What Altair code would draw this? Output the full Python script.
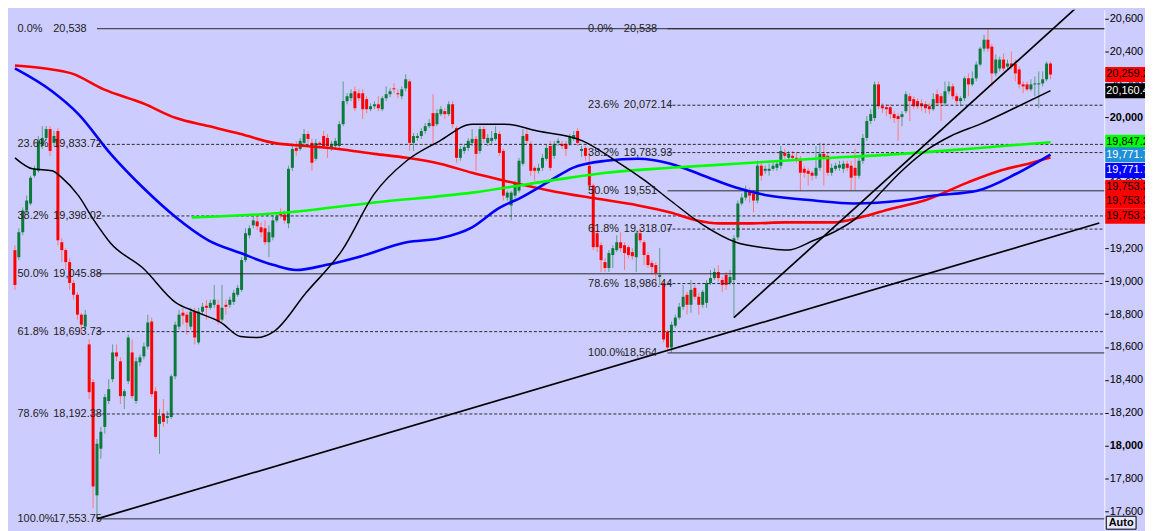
import altair as alt
import pandas as pd

# ---------------- candle data (price values) ----------------
opens = [
19190, 19147, 19299, 19431, 19474, 19643, 19673, 19824, 19873, 19927,
19843, 19915, 19238, 19190, 19117, 18990, 18918, 18797, 18724, 18616,
18386, 17697, 17981, 18114, 18271, 18404, 18567, 18513, 18301, 18392,
18567, 18271, 18507, 18543, 18603, 18755, 18331, 18132, 18192, 18168,
18174, 18422, 18724, 18809, 18797, 18724, 18815, 18628, 18815, 18851,
18839, 18857, 18857, 18767, 18857, 18857, 18875, 18918, 18948, 19129,
19280, 19341, 19365, 19329, 19323, 19238, 19268, 19371, 19413, 19407,
19353, 19691, 19812, 19806, 19843, 19897, 19843, 19746, 19843, 19885,
19873, 19806, 19824, 19824, 19957, 20097, 20115, 20157, 20145, 20145,
20109, 20048, 20066, 20078, 20048, 20115, 20139, 20175, 20145, 20127,
20175, 20217, 19843, 19873, 19885, 19915, 19945, 20024, 19957, 20018,
20036, 20018, 20078, 19933, 19752, 19794, 19812, 19843, 19867, 19794,
19927, 19843, 19855, 19867, 19897, 19794, 19510, 19462, 19522, 19552,
19716, 19897, 19837, 19691, 19673, 19691, 19746, 19824, 19764, 19843,
19837, 19837, 19837, 19867, 19915, 19794, 19812, 19704, 19583, 19293,
19220, 19117, 19081, 19160, 19190, 19238, 19220, 19208, 19178, 19147,
19293, 19238, 19160, 19111, 19099, 19027, 18990, 18694, 18597, 18730,
18779, 18845, 18918, 18857, 18960, 18906, 18857, 18869, 18990, 19020,
19057, 19008, 19039, 18990, 19008, 19268, 19474, 19510, 19552, 19534,
19492, 19704, 19673, 19673, 19685, 19691, 19704, 19782, 19752, 19764,
19752, 19746, 19685, 19673, 19661, 19643, 19691, 19776, 19764, 19661,
19685, 19691, 19685, 19716, 19704, 19691, 19643, 19734, 19873, 19976,
19994, 20199, 20066, 20060, 20060, 20018, 20006, 20000, 20036, 20127,
20109, 20097, 20084, 20078, 20066, 20048, 20139, 20127, 20084, 20157,
20187, 20127, 20097, 20115, 20236, 20199, 20236, 20320, 20417, 20471,
20429, 20266, 20296, 20350, 20308, 20326, 20326, 20290, 20199, 20199,
20169, 20199, 20199, 20205, 20230, 20326,
]
highs = [
19220, 19323, 19450, 19522, 19643, 19704, 19885, 19945, 19945, 19945,
19915, 19933, 19262, 19202, 19141, 19008, 18936, 18809, 18827, 18646,
18404, 18041, 18114, 18313, 18404, 18616, 18616, 18537, 18343, 18676,
18646, 18537, 18555, 18628, 18797, 18779, 18355, 18223, 18283, 18210,
18434, 18755, 18827, 18839, 18815, 18839, 18839, 18839, 18869, 18888,
18888, 18978, 18888, 18978, 18888, 18906, 18948, 18978, 19147, 19323,
19341, 19395, 19395, 19359, 19371, 19341, 19401, 19413, 19444, 19431,
19704, 19824, 19855, 19873, 19927, 19915, 19867, 19867, 19855, 19915,
19897, 19855, 19873, 19976, 20217, 20145, 20169, 20187, 20169, 20169,
20127, 20084, 20097, 20127, 20127, 20187, 20175, 20205, 20169, 20187,
20260, 20230, 19903, 19903, 19933, 19964, 19988, 20139, 20048, 20066,
20054, 20097, 20097, 19945, 19824, 19837, 19873, 19927, 19885, 19945,
19945, 19897, 19915, 19945, 19915, 19806, 19552, 19552, 19613, 19752,
19927, 19927, 19855, 19704, 19716, 19776, 19837, 19855, 19855, 19873,
19855, 19855, 19897, 19915, 19933, 19824, 19824, 19806, 19595, 19311,
19238, 19141, 19190, 19220, 19280, 19299, 19238, 19220, 19202, 19311,
19323, 19250, 19178, 19129, 19117, 19202, 19008, 18706, 18755, 18797,
18869, 18978, 18936, 19008, 18978, 18930, 18948, 19008, 19069, 19081,
19099, 19027, 19057, 19069, 19280, 19492, 19534, 19583, 19571, 19552,
19734, 19722, 19704, 19716, 19722, 19734, 19824, 19806, 19794, 19794,
19782, 19764, 19704, 19691, 19673, 19824, 19843, 19843, 19782, 19716,
19722, 19734, 19734, 19734, 19734, 19806, 19752, 19897, 20006, 20048,
20217, 20217, 20084, 20078, 20078, 20036, 20024, 20036, 20157, 20145,
20127, 20115, 20109, 20097, 20084, 20145, 20169, 20145, 20217, 20217,
20205, 20145, 20127, 20248, 20266, 20278, 20338, 20429, 20501, 20538,
20447, 20381, 20368, 20387, 20350, 20399, 20350, 20308, 20217, 20217,
20230, 20248, 20278, 20278, 20338, 20338,
]
lows = [
18948, 19129, 19280, 19413, 19462, 19631, 19661, 19806, 19855, 19764,
19824, 19220, 19117, 19069, 18948, 18888, 18767, 18676, 18706, 18283,
17618, 17554, 17920, 18072, 18253, 18386, 18513, 18253, 18223, 18374,
18283, 18253, 18483, 18525, 18585, 18295, 18041, 17950, 18114, 18132,
18162, 18404, 18706, 18736, 18676, 18706, 18616, 18616, 18797, 18767,
18827, 18839, 18736, 18755, 18797, 18839, 18857, 18906, 18936, 19117,
19262, 19323, 19311, 19268, 19220, 19147, 19250, 19359, 19383, 19353,
19323, 19673, 19764, 19794, 19824, 19843, 19673, 19734, 19806, 19806,
19752, 19794, 19812, 19806, 19945, 20078, 20097, 20036, 20097, 19988,
20024, 20036, 20048, 20036, 20036, 20097, 20121, 20145, 20115, 20109,
20157, 19794, 19794, 19855, 19867, 19897, 19933, 19824, 19945, 20006,
19988, 20006, 19933, 19722, 19734, 19776, 19794, 19824, 19673, 19776,
19843, 19824, 19837, 19855, 19764, 19492, 19492, 19371, 19504, 19540,
19704, 19837, 19643, 19613, 19655, 19673, 19734, 19673, 19746, 19824,
19806, 19764, 19824, 19855, 19824, 19758, 19734, 19565, 19190, 19178,
19057, 19057, 19057, 19081, 19178, 19178, 19069, 19141, 19129, 19057,
19232, 19099, 19081, 19039, 18978, 18978, 18628, 18573, 18564, 18718,
18767, 18827, 18797, 18809, 18888, 18797, 18839, 18839, 18978, 19008,
18996, 18936, 18948, 18978, 18779, 19250, 19462, 19492, 19480, 19419,
19474, 19613, 19655, 19643, 19673, 19673, 19685, 19746, 19734, 19734,
19722, 19552, 19631, 19583, 19613, 19625, 19673, 19583, 19643, 19643,
19673, 19673, 19661, 19673, 19552, 19552, 19625, 19716, 19855, 19957,
19976, 20048, 20024, 20006, 19988, 19964, 19855, 19945, 20024, 19976,
20048, 20048, 20036, 20024, 20018, 20036, 20066, 19976, 20066, 20139,
20109, 20078, 20066, 20097, 20127, 20187, 20217, 20308, 20399, 20399,
20187, 20248, 20278, 20278, 20290, 20290, 20217, 20175, 20145, 20157,
20157, 20127, 20054, 20187, 20217, 20230,
]
closes = [
18978, 19299, 19431, 19492, 19631, 19685, 19855, 19873, 19927, 19794,
19885, 19250, 19190, 19117, 18990, 18918, 18797, 18736, 18797, 18325,
17751, 18011, 18084, 18295, 18343, 18567, 18543, 18301, 18331, 18658,
18301, 18513, 18537, 18603, 18749, 18313, 18053, 18180, 18144, 18180,
18422, 18736, 18797, 18791, 18749, 18815, 18658, 18815, 18845, 18839,
18869, 18888, 18755, 18839, 18845, 18888, 18930, 18960, 19129, 19293,
19323, 19371, 19335, 19299, 19238, 19299, 19371, 19395, 19401, 19371,
19685, 19806, 19794, 19855, 19897, 19867, 19722, 19843, 19831, 19824,
19824, 19837, 19855, 19957, 20097, 20127, 20145, 20054, 20115, 20048,
20048, 20066, 20078, 20054, 20115, 20139, 20157, 20169, 20139, 20169,
20230, 19843, 19885, 19885, 19915, 19945, 19964, 19945, 20024, 20048,
20018, 20078, 19957, 19752, 19806, 19818, 19855, 19867, 19776, 19927,
19867, 19873, 19873, 19903, 19782, 19522, 19540, 19540, 19595, 19734,
19885, 19855, 19673, 19673, 19691, 19752, 19812, 19691, 19837, 19855,
19824, 19806, 19879, 19891, 19843, 19806, 19764, 19583, 19208, 19208,
19129, 19081, 19172, 19202, 19238, 19202, 19172, 19160, 19153, 19293,
19250, 19160, 19099, 19087, 19051, 19039, 18646, 18597, 18736, 18779,
18845, 18906, 18857, 18948, 18906, 18857, 18936, 18990, 19020, 19057,
19020, 18978, 18978, 19027, 19262, 19474, 19510, 19552, 19522, 19492,
19704, 19643, 19685, 19685, 19704, 19716, 19794, 19764, 19776, 19752,
19746, 19661, 19661, 19655, 19643, 19691, 19776, 19752, 19661, 19691,
19704, 19710, 19716, 19691, 19631, 19643, 19734, 19873, 19976, 20018,
20199, 20066, 20054, 20048, 20018, 19994, 19988, 20018, 20139, 20097,
20066, 20066, 20066, 20054, 20048, 20109, 20084, 20084, 20157, 20187,
20127, 20097, 20115, 20236, 20199, 20236, 20320, 20417, 20471, 20417,
20266, 20350, 20350, 20296, 20326, 20308, 20266, 20199, 20187, 20169,
20199, 20205, 20205, 20230, 20326, 20259.2,
]

# ---------------- moving averages (bar index, price) ----------------
red_ma_i = [0, 7.75, 14.5, 22.75, 32.75, 41.25, 49.5, 57.75, 66.25, 74.5,
            82.75, 92, 100.25, 108.75, 117, 125.25, 137, 147, 159.5, 167.75,
            174.5, 180.25, 188.75, 197, 209.5, 216.25, 224.5, 232.75, 243.75, 252,
            260.25, 265]
red_ma_p = [20314, 20296, 20266, 20169, 20084, 19994, 19945, 19897, 19843, 19824,
            19806, 19776, 19752, 19716, 19661, 19613, 19552, 19510, 19462, 19419,
            19371, 19353, 19353, 19359, 19359, 19389, 19444, 19492, 19601, 19673,
            19722, 19753.3]
blue_ma_i = [0, 9.5, 16.25, 24.5, 32.75, 41.25, 49.5, 57.75, 66.25, 72,
             79.5, 87.75, 100.25, 108.75, 117, 123.75, 129.5, 137, 142.75, 151.25,
             159.5, 167.75, 176.25, 184.5, 192.75, 204.5, 214.5, 227, 235.25, 246.25,
             256.25, 265]
blue_ma_p = [20296, 20157, 20018, 19776, 19571, 19389, 19250, 19172, 19099, 19069,
             19099, 19147, 19238, 19262, 19329, 19444, 19510, 19613, 19691, 19734,
             19746, 19716, 19643, 19571, 19522, 19492, 19474, 19492, 19522, 19552,
             19655, 19771.7]
black_ma_i = [0, 4.5, 9.5, 12, 16.25, 20.25, 24.5, 32.75, 41.25, 46.25,
              52.75, 57.75, 62, 66.25, 74.5, 83.75, 92, 100.25, 108.75, 117,
              125.25, 133.75, 145.25, 153.75, 161.25, 167.75, 176.25, 184.5, 192.75, 197.75,
              204.5, 209.5, 215.25, 222, 227, 233.75, 239.5, 247, 256.25, 265]
black_ma_p = [19752, 19685, 19673, 19631, 19522, 19371, 19232, 19081, 18869, 18815,
              18749, 18664, 18658, 18694, 18930, 19190, 19534, 19734, 19855, 19957,
              19957, 19915, 19855, 19734, 19613, 19492, 19341, 19238, 19202, 19190,
              19250, 19299, 19383, 19552, 19673, 19806, 19885, 19957, 20060, 20160.46]
green_ma_i = [45.25, 69.5, 92, 117, 137, 151.25, 167.75, 184.5, 204.5, 227, 243.75, 265]
green_ma_p = [19389, 19419, 19480, 19540, 19613, 19661, 19691, 19716, 19746, 19776, 19806, 19847.21]

# ---------------- Fibonacci retracements ----------------
fib_pcts = ["0.0%", "23.6%", "38.2%", "50.0%", "61.8%", "78.6%", "100.0%"]
fib_solid = [True, False, False, True, False, False, True]
fib1_prices = [20538, 19833.72, 19398.02, 19045.88, 18693.73, 18192.38, 17553.75]
fib1_labels = ["20,538", "19,833.72", "19,398.02", "19,045.88", "18,693.73", "18,192.38", "17,553.75"]
fib1_anchor = 21
fib2_prices = [20538, 20072.14, 19783.93, 19551, 19318.07, 18986.44, 18564]
fib2_labels = ["20,538", "20,072.14", "19,783.93", "19,551", "19,318.07", "18,986.44", "18,564"]
fib2_anchor = 167

# ---------------- trend lines ----------------
trend_id = ["a", "a", "b", "b"]
trend_i = [21, 277.5, 184, 277.5]
trend_p = [17553.75, 19355, 18779, 20793]

# ---------------- right-side price boxes ----------------
box_texts = ["20,259.2", "20,160.46", "19,847.21", "19,771.70", "19,771.70",
             "19,753.30", "19,753.30", "19,753.30"]
box_values = [20259.2, 20160.46, 19847.21, 19771.70, 19771.70, 19753.30, 19753.30, 19753.30]
box_fill = ["#ff0000", "#000000", "#00ff00", "#1e8fd8", "#0000ff", "#ff0000", "#ff0000", "#ff0000"]
box_text_col = ["#000000", "#ffffff", "#000000", "#ffffff", "#ffffff", "#000000", "#000000", "#000000"]
box_stack = [0, 0, 0, 0, 16, 30, 44, 59]   # pixel stacking of overlapping tags

axis_values = list(range(17600, 20601, 200))

# ---------------- layout / style ----------------
W, H = 1104, 523
BG = "#ccccff"
FONT = "Liberation Sans Narrow, Liberation Sans, sans-serif"
UP, DOWN = "#0b7a3a", "#ff0000"
UP_WICK, DOWN_WICK = "#5e9f86", "#ff7878"

xs = alt.Scale(domain=[-0.5, 277.5], nice=False, zero=False)
ys = alt.Scale(domain=[17491, 20653], nice=False, zero=False)

y_axis = alt.Axis(
    orient="right", values=axis_values, labelExpr="format(datum.value, ',')",
    title=None, grid=False,
    tickSize=4, tickColor="#000000", tickWidth=1, domainColor="#f4f4ff", domainWidth=1,
    labelFont=FONT, labelFontSize=11, labelColor="#000000", labelPadding=1,
    labelFontWeight={"condition": {"test": "datum.value == 18000 || datum.value == 20000",
                                   "value": "bold"}, "value": "normal"},
)


def X(f):
    return alt.X(f, type="quantitative", scale=xs, axis=None)


def Y(f):
    return alt.Y(f, type="quantitative", scale=ys, axis=y_axis)


candles = pd.DataFrame({"i": list(range(len(opens))), "open": opens, "high": highs,
                        "low": lows, "close": closes})

up_test = "datum.close >= datum.open"
wicks = alt.Chart(candles).mark_rule(strokeWidth=1).encode(
    x=X("i"), y=Y("low"), y2="high",
    color=alt.condition(up_test, alt.value(UP_WICK), alt.value(DOWN_WICK)),
)
bodies = alt.Chart(candles).mark_bar(size=3).encode(
    x=X("i"), y=Y("open"), y2="close",
    color=alt.condition(up_test, alt.value(UP), alt.value(DOWN)),
)


def ma_layer(ii, pp, color, width):
    df = pd.DataFrame({"i": ii, "p": pp})
    return alt.Chart(df).mark_line(color=color, strokeWidth=width, interpolate="monotone",
                                   clip=True).encode(x=X("i"), y=Y("p"))


ma_red = ma_layer(red_ma_i, red_ma_p, "#ff0000", 2.6)
ma_blue = ma_layer(blue_ma_i, blue_ma_p, "#0000ff", 2.6)
ma_green = ma_layer(green_ma_i, green_ma_p, "#00ff00", 2.6)
ma_black = ma_layer(black_ma_i, black_ma_p, "#000000", 1.5)

fib = pd.DataFrame({
    "pct": fib_pcts * 2,
    "price": fib1_prices + fib2_prices,
    "label": fib1_labels + fib2_labels,
    "start": [fib1_anchor] * 7 + [fib2_anchor] * 7,
    "solid": fib_solid * 2,
})
fib_base = alt.Chart(fib)
fib_solid_lines = fib_base.transform_filter("datum.solid").mark_rule(
    color="#2a2a2a", strokeWidth=1).encode(x=X("start"), x2=alt.value(W), y=Y("price"))
fib_dash_lines = fib_base.transform_filter("!datum.solid").mark_rule(
    color="#2a2a2a", strokeWidth=1, strokeDash=[3, 2]).encode(
    x=X("start"), x2=alt.value(W), y=Y("price"))
fib_pct_text = fib_base.mark_text(align="left", baseline="middle", dx=-80, font=FONT,
                                  fontSize=11, color="#222222").encode(
    x=X("start"), y=Y("price"), text="pct:N")
fib_val_text = fib_base.mark_text(align="left", baseline="middle", dx=-44, font=FONT,
                                  fontSize=11, color="#222222").encode(
    x=X("start"), y=Y("price"), text="label:N")

trend = alt.Chart(pd.DataFrame({"id": trend_id, "i": trend_i, "p": trend_p})).mark_line(
    color="#000000", strokeWidth=1.7, clip=True).encode(x=X("i"), y=Y("p"), detail="id:N")

box_shape = "M-1,-0.375L1,-0.375L1,0.375L-1,0.375Z"
box_layers = []
for t, v, fc, tc, off in zip(box_texts, box_values, box_fill, box_text_col, box_stack):
    d = pd.DataFrame({"t": [t], "v": [v]})
    box_layers.append(
        alt.Chart(d).mark_point(shape=box_shape, filled=True, size=1600, opacity=1,
                                strokeWidth=0, fill=fc, yOffset=off).encode(
            x=alt.value(W + 21), y=Y("v")))
    box_layers.append(
        alt.Chart(d).mark_text(align="left", baseline="middle", font=FONT, fontSize=11,
                               color=tc, yOffset=off).encode(
            x=alt.value(W + 2), y=Y("v"), text="t:N"))

auto_df = pd.DataFrame({"t": ["Auto"]})
auto_box = alt.Chart(auto_df).mark_rect(fill="#e8e8ff", stroke="#000000", strokeWidth=1).encode(
    x=alt.value(W + 2), x2=alt.value(W + 32), y=alt.value(H - 13), y2=alt.value(H))
auto_text = alt.Chart(auto_df).mark_text(font=FONT, fontSize=11, fontWeight="bold",
                                         color="#000000", baseline="middle").encode(
    x=alt.value(W + 17), y=alt.value(H - 6), text="t:N")

chart = alt.layer(
    wicks, bodies,
    fib_solid_lines, fib_dash_lines,
    ma_red, ma_blue, ma_green, ma_black,
    trend,
    fib_pct_text, fib_val_text,
    *box_layers, auto_box, auto_text,
).properties(
    width=W, height=H,
    padding={"left": 0, "top": 0, "right": 41, "bottom": 0},
    autosize=alt.AutoSizeParams(type="none"),
    background=BG,
).configure_view(stroke=None)

chart.save("out.html", embed_options={"renderer": "svg", "actions": False})
